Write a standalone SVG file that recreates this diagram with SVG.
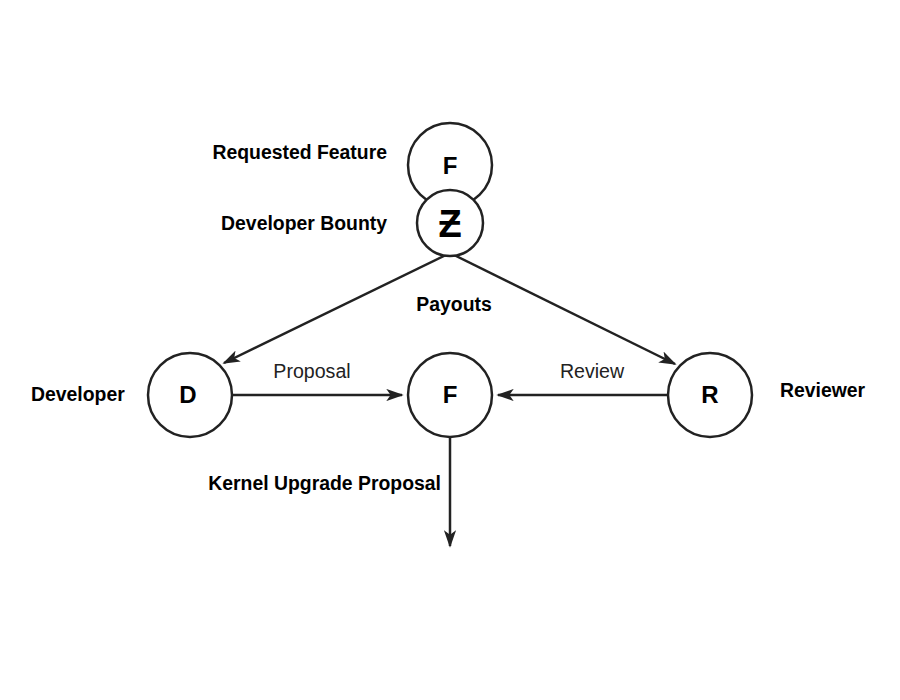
<svg xmlns="http://www.w3.org/2000/svg" width="900" height="700" viewBox="0 0 900 700">
<style>
.node{fill:#fff;stroke:#222;stroke-width:2.5}
.lbl{font-family:"Liberation Sans",Arial,sans-serif;font-size:19.4px;font-weight:bold;fill:#000}
.el{font-family:"Liberation Sans",Arial,sans-serif;font-size:19.6px;fill:#222}
.let{font-family:"Liberation Sans",Arial,sans-serif;font-size:24px;font-weight:bold;fill:#000;text-anchor:middle}
.edge{fill:none;stroke:#222;stroke-width:2.5}
</style>
<defs>
<marker id="arr" viewBox="0 0 20 14" refX="18" refY="7" markerWidth="7" markerHeight="5" markerUnits="strokeWidth" orient="auto">
<path d="M0,0 L20,7 L0,14 L5,7 Z" fill="#222"/>
</marker>
</defs>
<rect width="900" height="700" fill="#fff"/>
<g id="connectors">
<line class="edge" x1="446" y1="255" x2="224" y2="363" marker-end="url(#arr)"/>
<line class="edge" x1="454" y1="255" x2="675" y2="364" marker-end="url(#arr)"/>
<line class="edge" x1="232" y1="395" x2="402" y2="395" marker-end="url(#arr)"/>
<line class="edge" x1="668" y1="395" x2="498" y2="395" marker-end="url(#arr)"/>
<line class="edge" x1="450" y1="437" x2="450" y2="546" marker-end="url(#arr)"/>
<text class="el" x="312" y="378" text-anchor="middle">Proposal</text>
<text class="el" x="592" y="378" text-anchor="middle">Review</text>
<text class="lbl" x="454" y="311" text-anchor="middle">Payouts</text>
</g>
<g id="feature">
<circle class="node" cx="450" cy="165" r="42"/>
<text class="let" x="450" y="174">F</text>
<text class="lbl" x="387" y="159" text-anchor="end">Requested Feature</text>
</g>
<g id="bounty">
<circle class="node" cx="450" cy="223" r="33"/>
<text class="let" x="450" y="237" style="font-size:38px">Ƶ</text>
<text class="lbl" x="387" y="230" text-anchor="end">Developer Bounty</text>
</g>
<g id="developer">
<circle class="node" cx="190" cy="395" r="42"/>
<text class="let" x="188" y="403">D</text>
<text class="lbl" x="31" y="401">Developer</text>
</g>
<g id="proposal">
<circle class="node" cx="450" cy="395" r="42"/>
<text class="let" x="450" y="403">F</text>
<text class="lbl" x="441" y="490" text-anchor="end">Kernel Upgrade Proposal</text>
</g>
<g id="reviewer">
<circle class="node" cx="710" cy="395" r="42"/>
<text class="let" x="710" y="403">R</text>
<text class="lbl" x="780" y="397">Reviewer</text>
</g>
</svg>
